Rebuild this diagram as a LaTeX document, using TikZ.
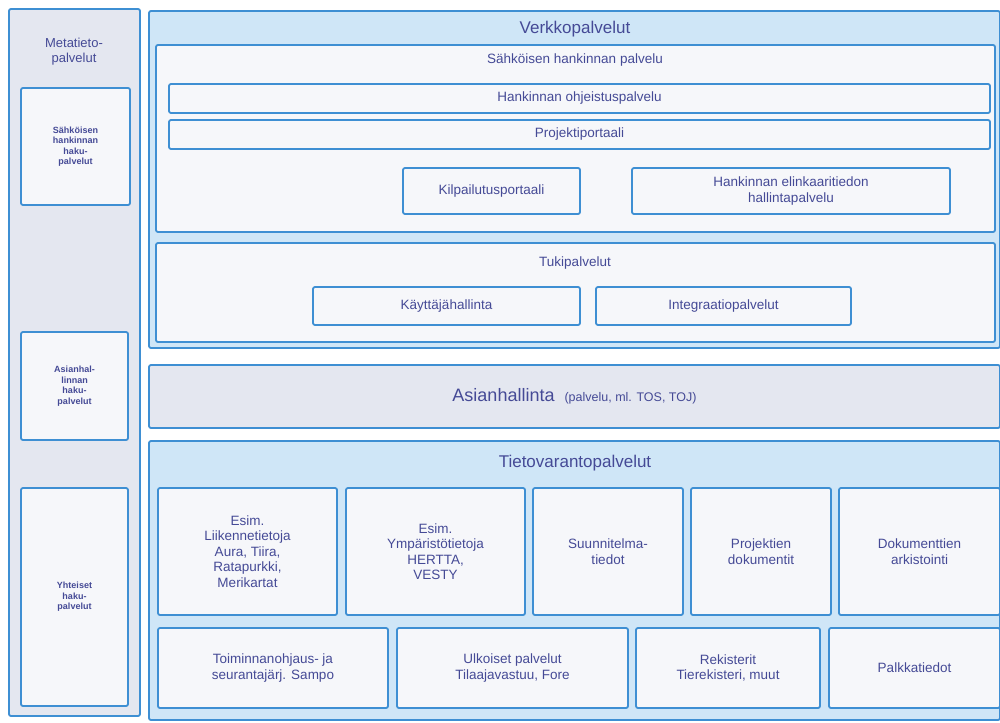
\documentclass[tikz,border=0pt]{standalone}
\usepackage{fontspec}
\setmainfont{Liberation Sans}
\begin{document}
\definecolor{edge}{HTML}{3E8FD3}
\definecolor{skyfill}{HTML}{CFE6F7}
\definecolor{greyfill}{HTML}{E4E7F0}
\definecolor{paper}{HTML}{F6F7FA}
\definecolor{ink}{HTML}{454A96}
\begin{tikzpicture}[x=1pt,y=-1pt,
  frame/.style={draw=edge,line width=1.8pt,rounded corners=2pt,inner sep=2pt,text=ink,align=center},
  sky/.style={frame,fill=skyfill},
  grey/.style={frame,fill=greyfill},
  card/.style={frame,fill=paper,font=\fontsize{13.5}{15.5}\selectfont},
  small/.style={frame,fill=paper,font=\bfseries\fontsize{9}{10.5}\selectfont},
  title/.style={text=ink,font=\fontsize{17}{19}\selectfont},
  subtitle/.style={text=ink,font=\fontsize{13.5}{15.5}\selectfont}]
\newcommand\panel[7]{\node[#1,minimum width={(#5-#3)*1pt},minimum height={(#6-#4)*1pt}]
  (#2) at ({(#3+#5)/2},{(#4+#6)/2}) {#7};}
\useasboundingbox[fill=white] (0,0) rectangle (1000,722);
% left column: metadata services
\panel{grey}{meta}{9}{9}{140}{716}{}
\node[title,font=\fontsize{13}{15}\selectfont,align=center] (metatitle) at (74,52) {Metatieto-\\palvelut};
\panel{small}{hakuA}{21}{88}{130}{205}{Sähköisen\\hankinnan\\haku-\\palvelut}
\panel{small}{hakuB}{21}{332}{128}{440}{Asianhal-\\linnan\\haku-\\palvelut}
\panel{small}{hakuC}{21}{488}{128}{706}{Yhteiset\\haku-\\palvelut}
% web services
\panel{sky}{verkko}{149}{11}{1000}{348}{}
\node[title] (verkkotitle) at (575,29) {Verkkopalvelut};
\panel{card}{sahk}{156}{45}{995}{232}{}
\node[subtitle] (sahktitle) at (575,60) {Sähköisen hankinnan palvelu};
\panel{card}{ohje}{169}{84}{990}{113}{Hankinnan ohjeistuspalvelu}
\panel{card}{portaali}{169}{120}{990}{149}{Projektiportaali}
\panel{card}{kilpailu}{403}{168}{580}{214}{Kilpailutusportaali}
\panel{card}{elinkaari}{632}{168}{950}{214}{Hankinnan elinkaaritiedon\\hallintapalvelu}
\panel{card}{tuki}{156}{243}{995}{342}{}
\node[subtitle] (tukititle) at (575,263) {Tukipalvelut};
\panel{card}{kayttaja}{313}{287}{580}{325}{Käyttäjähallinta}
\panel{card}{integraatio}{596}{287}{851}{325}{Integraatiopalvelut}
% case management
\panel{grey}{asian}{149}{365}{1000}{428}{\fontsize{18}{20}\selectfont Asianhallinta\ \ {\fontsize{12.5}{14}\selectfont(palvelu, ml. TOS, TOJ)}}
% data resource services
\panel{sky}{tieto}{149}{441}{1000}{720}{}
\node[title] (tietotitle) at (575,463) {Tietovarantopalvelut};
\panel{card}{liikenne}{158}{488}{337}{615}{Esim.\\Liikennetietoja\\Aura, Tiira,\\Ratapurkki,\\Merikartat}
\panel{card}{ymparisto}{346}{488}{525}{615}{Esim.\\Ympäristötietoja\\HERTTA,\\VESTY}
\panel{card}{suunnitelma}{533}{488}{683}{615}{Suunnitelma-\\tiedot}
\panel{card}{projektit}{691}{488}{831}{615}{Projektien\\dokumentit}
\panel{card}{arkisto}{839}{488}{1000}{615}{Dokumenttien\\arkistointi}
\panel{card}{sampo}{158}{628}{388}{708}{Toiminnanohjaus- ja\\seurantajärj. Sampo}
\panel{card}{ulkoiset}{397}{628}{628}{708}{Ulkoiset palvelut\\Tilaajavastuu, Fore}
\panel{card}{rekisterit}{636}{628}{820}{708}{Rekisterit\\Tierekisteri, muut}
\panel{card}{palkka}{829}{628}{1000}{708}{Palkkatiedot}
\end{tikzpicture}
\end{document}
